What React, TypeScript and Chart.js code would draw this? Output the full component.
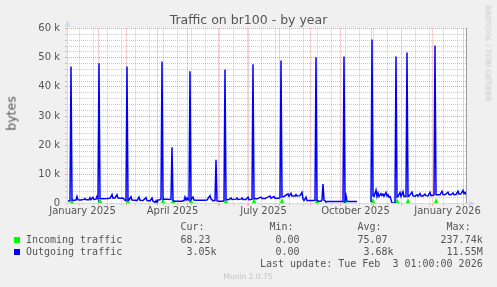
import React, { useEffect, useRef } from "react";
import { Chart, registerables } from "chart.js";

Chart.register(...registerables);

// ---- data (days since 1 Jan 2025, values in thousands of bytes) ----
const OUT_DAYS = [
  0, 1, 2, 3, 4, 5, 7, 9, 10, 11, 14, 17, 18, 19, 22, 23, 24, 26, 27, 29, 30, 31,
  32, 33, 36, 40, 43, 45, 46, 48, 50, 51, 54, 56, 57, 58, 59,
  60, 61, 62, 64, 65, 68, 70, 72, 73, 76, 79, 80, 83, 85, 86, 88, 89, 90, 91, 93, 94,
  95, 96, 97, 100, 103, 104, 105, 106, 108, 112, 115, 117, 118, 119, 120, 121, 122,
  123, 124, 126, 127, 130, 134, 137, 140, 143, 144, 146, 147, 148, 149, 150, 152, 154, 156, 157,
  158, 159, 162, 164, 165, 169, 170, 171, 174, 175, 176, 179, 181, 182, 184, 185,
  186, 187, 190, 194, 195, 198, 203, 204, 207, 208, 211, 213,
  214, 215, 217, 221, 222, 224, 225, 228, 229, 230, 233, 235, 236, 237, 239, 240, 243, 245, 248,
  249, 250, 252, 254, 255, 256, 257, 258, 259, 260, 265, 270, 276,
  277, 278, 279, 280, 281, 285, 290, 297, 304,
  305, 306, 307, 309, 310, 311, 312, 314, 315, 316, 317, 319, 320, 321, 322, 323, 325, 326, 328,
  329, 330, 331, 333, 334, 336, 337, 339,
  340, 341, 342, 345, 346, 348, 350, 351, 353, 354, 356, 358, 359, 361, 363, 364, 366, 367,
  368, 369, 370, 373, 375, 376, 378, 381, 382, 384, 386, 387, 389, 391, 392, 394, 396, 397, 398, 399,
];
const OUT_K: (number | null)[] = [
  0.8, 0.9, 0.9, 1.0, 47.0, 1.2, 1.1, 1.2, 2.4, 1.3, 1.2, 1.4, 1.7, 1.3, 1.3, 2.0, 1.3, 2.1, 1.4, 1.5, 2.4, 1.6,
  48.1, 1.7, 1.6, 1.7, 1.8, 3.1, 1.8, 1.9, 3.0, 1.9, 1.8, 1.9, 1.5, 1.1, 1.0,
  47.0, 1.1, 1.2, 2.3, 1.2, 1.1, 1.0, 2.2, 1.1, 1.0, 2.0, 1.0, 0.9, 1.9, 0.8, 0.4, 1.0, 0.3, 1.2, 1.3, 1.5,
  48.7, 1.4, 1.5, 1.5, 1.4, 1.5, 19.3, 1.0, 0.8, 0.8, 0.8, 1.0, 2.2, 1.2, 1.9, 1.3, 1.1,
  45.3, 1.3, 2.2, 1.2, 1.1, 1.1, 1.1, 1.2, 2.7, 1.6, 0.9, 1.0, 1.0, 15.0, 0.9, 0.8, 0.8, 0.8, 1.0,
  45.9, 1.3, 1.4, 1.9, 1.4, 1.5, 1.9, 1.4, 1.5, 1.9, 1.4, 1.4, 2.2, 1.3, 1.4, 1.5,
  47.7, 1.6, 1.6, 2.2, 1.7, 1.7, 2.6, 1.8, 2.4, 1.8, 1.8, 1.9,
  49.0, 2.3, 2.4, 3.3, 2.5, 3.5, 2.6, 2.6, 3.1, 2.6, 2.7, 3.8, 1.6, 1.0, 2.2, 1.0, 1.0, 1.0, 1.1,
  50.1, 1.0, 0.8, 0.8, 1.2, 6.7, 1.1, 1.0, 0.45, 0.7, 0.7, 0.7, 0.7,
  50.4, 1.0, 2.7, 0.8, 0.7, 0.7, 0.7, null, 0.5,
  56.2, 2.6, 2.4, 4.6, 2.4, 3.6, 2.4, 3.4, 2.8, 3.2, 2.5, 3.8, 2.6, 3.0, 2.2, 2.4, 0.2, 0.1, 0.3,
  50.4, 2.2, 2.4, 3.8, 2.4, 4.0, 2.4, 2.4,
  51.8, 2.4, 2.5, 3.9, 2.6, 2.5, 3.0, 2.5, 3.4, 2.6, 2.6, 3.2, 2.7, 2.6, 3.8, 2.7, 2.8, 2.9,
  54.2, 3.0, 3.0, 3.0, 4.2, 3.1, 3.0, 3.9, 3.1, 3.0, 3.6, 3.0, 3.1, 4.2, 3.2, 3.3, 4.5, 3.4, 3.8, 3.05,
];

const IN_DAYS = [
  0, 4, 5, 6, 32, 33, 34, 60, 61, 62, 95, 96, 97, 105, 106, 107, 123, 124, 125,
  158, 159, 160, 186, 187, 188, 214, 215, 216, 249, 250, 251, 277, 278, 279, 290, 297, 304,
  305, 306, 307, 329, 330, 331, 340, 341, 342, 368, 369, 370, 399,
];
const IN_K: (number | null)[] = [
  0, 0, 0.8, 0, 0, 0.8, 0, 0, 0.8, 0, 0, 0.8, 0, 0, 0.8, 0, 0, 0.8, 0,
  0, 0.8, 0, 0, 0.8, 0, 0, 0.8, 0, 0, 0.8, 0, 0, 0.8, 0, 0, null, 0,
  0, 0.8, 0, 0, 0.8, 0, 0, 0.8, 0, 0, 0.8, 0, 0,
];

const MONTH_START_DAYS = [0, 31, 59, 90, 120, 151, 181, 212, 243, 273, 304, 334, 365, 396];
const MINOR_GRID_DAYS = [
  12, 26, 40, 54, 68, 82, 96, 110, 124, 138, 152, 166, 180, 194, 208, 222, 236, 250, 264,
  278, 292, 306, 320, 348, 362, 376, 390,
];
const LABEL_DAYS = [15.5, 105.5, 196.5, 288.5, 380.5];
const LABEL_NAMES = ["January 2025", "April 2025", "July 2025", "October 2025", "January 2026"];
const X_MAX_DAYS = 400;
const Y_MAX_K = 60;
const Y_STEP_K = 2;
const Y_LABEL_STEP_K = 10;

const SERIES_NAMES = ["Incoming traffic", "Outgoing traffic"];
const SERIES_COLORS = ["#00ff00", "#0000ff"];
const CUR_VALUES = ["68.23", "3.05k"];
const MIN_VALUES = ["0.00", "0.00"];
const AVG_VALUES = ["75.07", "3.68k"];
const MAX_VALUES = ["237.74k", "11.55M"];
const COLUMN_HEADERS = ["Cur:", "Min:", "Avg:", "Max:"];

const TITLE = "Traffic on br100 - by year";
const Y_TITLE = "bytes";
const LAST_UPDATE = "Last update: Tue Feb  3 01:00:00 2026";
const WATERMARK = "RRDTOOL / TOBI OETIKER";
const VERSION = "Munin 2.0.75";

// ---- styles ----
const TEXT = "#555555";
const SANS = '"DejaVu Sans", sans-serif';
const MONO = '"DejaVu Sans Mono", monospace';
const GRID_MINOR = "rgba(160,160,160,0.55)";
const GRID_MAJOR = "rgba(222,79,79,0.55)";
const AXIS = "#cfd6f8";

const pad = (v: string) => (/[kM]$/.test(v) ? v : v + " ");

const muninPlugin = {
  id: "muninFrame",
  beforeDraw(chart: any) {
    const { ctx, chartArea: a } = chart;
    ctx.save();
    ctx.fillStyle = "#f0f0f0";
    ctx.fillRect(0, 0, chart.width, chart.height);
    ctx.fillStyle = "#ffffff";
    ctx.fillRect(a.left, Math.floor(a.top), a.right - a.left, Math.ceil(a.bottom) - Math.floor(a.top));
    ctx.restore();
  },
  afterDatasetsDraw(chart: any) {
    const { ctx, chartArea: a } = chart;
    const x0 = a.left + 0.5;
    const y0 = a.bottom;
    ctx.save();
    ctx.strokeStyle = "#a0a0a0";
    ctx.lineWidth = 1;
    ctx.beginPath();
    ctx.moveTo(a.right - 0.5, Math.floor(a.top));
    ctx.lineTo(a.right - 0.5, y0);
    ctx.stroke();
    ctx.strokeStyle = AXIS;
    ctx.beginPath();
    ctx.moveTo(x0 - 3, y0);
    ctx.lineTo(a.right + 3, y0);
    ctx.moveTo(x0, y0 + 2.5);
    ctx.lineTo(x0, a.top - 2);
    ctx.stroke();
    ctx.fillStyle = AXIS;
    ctx.beginPath();
    ctx.moveTo(x0 - 3, a.top - 2);
    ctx.lineTo(x0 + 3, a.top - 2);
    ctx.lineTo(x0, a.top - 8);
    ctx.closePath();
    ctx.fill();
    ctx.beginPath();
    ctx.moveTo(a.right + 2, y0 - 3);
    ctx.lineTo(a.right + 2, y0 + 3);
    ctx.lineTo(a.right + 8, y0);
    ctx.closePath();
    ctx.fill();
    ctx.restore();
  },
};

export default function App() {
  const ref = useRef<HTMLCanvasElement>(null);

  useEffect(() => {
    document.body.style.margin = "0";
    const outPoints = OUT_DAYS.map((d, i) => ({ x: d, y: OUT_K[i] }));
    const inPoints = IN_DAYS.map((d, i) => ({ x: d, y: IN_K[i] }));
    const gridTicks = [
      ...MINOR_GRID_DAYS.map((v) => ({ value: v, major: false })),
      ...MONTH_START_DAYS.map((v) => ({ value: v, major: true })),
    ];
    const xGridColor = (c: any) => (c.tick && c.tick.major ? GRID_MAJOR : GRID_MINOR);
    const yGridColor = (c: any) =>
      c.tick && c.tick.value % Y_LABEL_STEP_K === 0 ? GRID_MAJOR : GRID_MINOR;

    const chart = new Chart(ref.current as HTMLCanvasElement, {
      type: "line",
      data: {
        datasets: [
          {
            label: SERIES_NAMES[1],
            data: outPoints as any,
            borderColor: SERIES_COLORS[1],
            borderWidth: 1.5,
            pointRadius: 0,
            tension: 0,
            spanGaps: false,
            xAxisID: "x",
            yAxisID: "y",
          },
          {
            label: SERIES_NAMES[0],
            data: inPoints as any,
            borderColor: SERIES_COLORS[0],
            borderWidth: 1,
            pointRadius: 0,
            tension: 0,
            spanGaps: false,
            xAxisID: "x",
            yAxisID: "y",
            segment: {
              borderWidth: (c: any) => (c.p0.parsed.y > 0 || c.p1.parsed.y > 0 ? 2.5 : 1),
            },
          } as any,
        ],
      },
      options: {
        animation: false,
        responsive: false,
        devicePixelRatio: 1,
        events: [],
        layout: { padding: { left: 0, right: 30, top: 28.5, bottom: 0 } },
        plugins: {
          legend: { display: false },
          title: { display: false },
          tooltip: { enabled: false },
        },
        scales: {
          x: {
            type: "linear",
            position: "bottom",
            weight: 0,
            min: 0,
            max: X_MAX_DAYS,
            afterBuildTicks: (s: any) => {
              s.ticks = gridTicks.map((t) => ({ ...t }));
            },
            afterFit: (s: any) => {
              s.height = 0;
            },
            ticks: { display: false, autoSkip: false },
            grid: { color: xGridColor, tickColor: xGridColor, lineWidth: 1, drawTicks: true, tickLength: 2 },
            border: { display: false, dash: [1, 1] },
          },
          xl: {
            type: "linear",
            position: "bottom",
            weight: 1,
            min: 0,
            max: X_MAX_DAYS,
            afterBuildTicks: (s: any) => {
              s.ticks = LABEL_DAYS.map((v) => ({ value: v }));
            },
            afterFit: (s: any) => {
              s.height = 83.5;
            },
            grid: { display: false, drawTicks: false },
            border: { display: false },
            ticks: {
              autoSkip: false,
              maxRotation: 0,
              minRotation: 0,
              padding: 2,
              color: TEXT,
              font: { family: SANS, size: 10 },
              callback: (_v: any, i: number) => LABEL_NAMES[i] ?? "",
            },
          },
          y: {
            type: "linear",
            position: "left",
            min: 0,
            max: Y_MAX_K,
            afterFit: (s: any) => {
              s.width = 67;
            },
            ticks: {
              stepSize: Y_STEP_K,
              autoSkip: false,
              padding: 5,
              color: TEXT,
              font: { family: SANS, size: 10 },
              callback: (v: any) =>
                Number(v) % Y_LABEL_STEP_K === 0 ? (Number(v) === 0 ? "0" : `${v} k`) : "",
            },
            grid: { color: yGridColor, tickColor: yGridColor, lineWidth: 1, drawTicks: true, tickLength: 2 },
            border: { display: false, dash: [1, 1] },
          },
        } as any,
      },
      plugins: [muninPlugin],
    });
    return () => chart.destroy();
  }, []);

  const rowTops = [233.8, 246.2];
  const boxTops = [237, 249];
  const colRights = [216.5, 305.5, 393.5, 482.7];
  const monoBase: React.CSSProperties = {
    position: "absolute",
    fontFamily: MONO,
    fontSize: 10,
    lineHeight: "12px",
    color: TEXT,
    whiteSpace: "pre",
  };
  const rightSpan = (text: string, right: number, top: number, key: string) => (
    <div key={key} style={{ ...monoBase, right: 497 - right, top }}>
      {text}
    </div>
  );
  const columns = [CUR_VALUES, MIN_VALUES, AVG_VALUES, MAX_VALUES];

  return (
    <div
      style={{
        position: "fixed",
        left: 0,
        top: 0,
        width: 497,
        height: 287,
        background: "#f0f0f0",
        overflow: "hidden",
      }}
    >
      <canvas
        ref={ref}
        width={497}
        height={287}
        style={{ position: "absolute", left: 0, top: 0, width: 497, height: 287 }}
      />
      <div
        style={{
          position: "absolute",
          left: 0,
          top: 12.2,
          width: 497,
          textAlign: "center",
          fontFamily: SANS,
          fontSize: 12.5,
          lineHeight: "15px",
          color: TEXT,
          whiteSpace: "nowrap",
        }}
      >
        {TITLE}
      </div>
      <div
        style={{
          position: "absolute",
          left: 11 - 30,
          top: 113.5 - 7.5,
          width: 60,
          height: 15,
          textAlign: "center",
          fontFamily: SANS,
          fontSize: 12.5,
          lineHeight: "15px",
          color: TEXT,
          transform: "rotate(-90deg)",
          whiteSpace: "nowrap",
        }}
      >
        {Y_TITLE}
      </div>
      <div
        style={{
          position: "absolute",
          left: 487.6 - 60,
          top: 53.3 - 4.5,
          width: 120,
          height: 9,
          textAlign: "center",
          fontFamily: SANS,
          fontSize: 7.5,
          lineHeight: "9px",
          color: "#c8c8c8",
          transform: "rotate(90deg)",
          whiteSpace: "nowrap",
        }}
      >
        {WATERMARK}
      </div>
      {COLUMN_HEADERS.map((h, j) => rightSpan(h + "  ", colRights[j], 221.2, "h" + j))}
      {SERIES_NAMES.map((name, i) => (
        <React.Fragment key={name}>
          <div
            style={{
              position: "absolute",
              left: 14,
              top: boxTops[i],
              width: 6,
              height: 6,
              background: SERIES_COLORS[i],
            }}
          />
          <div style={{ ...monoBase, left: 25.9, top: rowTops[i] }}>{name}</div>
          {columns.map((col, j) => rightSpan(pad(col[i]), colRights[j], rowTops[i], `v${i}${j}`))}
        </React.Fragment>
      ))}
      {rightSpan(LAST_UPDATE, colRights[3], 257.5, "upd")}
      <div
        style={{
          position: "absolute",
          left: 198,
          top: 272.2,
          width: 100,
          textAlign: "center",
          fontFamily: SANS,
          fontSize: 7.5,
          lineHeight: "9px",
          color: "#c0c0c0",
          whiteSpace: "nowrap",
        }}
      >
        {VERSION}
      </div>
    </div>
  );
}
